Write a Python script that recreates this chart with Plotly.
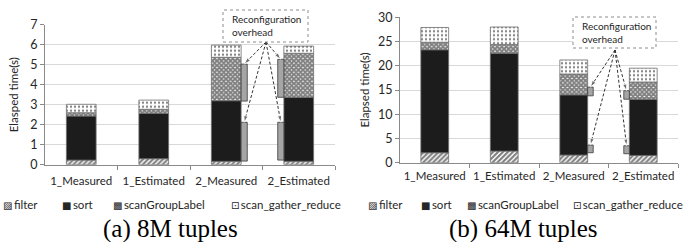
import plotly.graph_objects as go
import numpy as np

W, H = 686, 242

categories = ["1_Measured", "1_Estimated", "2_Measured", "2_Estimated"]
series_names = ["filter", "sort", "scanGroupLabel", "scan_gather_reduce"]
legend_icons = ["▨", "■", "▩", "⊡"]

# (a) 8M tuples
filter_8m = [0.23, 0.30, 0.17, 0.17]
sort_8m = [2.20, 2.27, 3.03, 3.20]
sgl_8m = [0.17, 0.20, 2.17, 2.20]
sgr_8m = [0.42, 0.46, 0.61, 0.36]

# (b) 64M tuples
filter_64m = [2.06, 2.40, 1.58, 1.50]
sort_64m = [21.24, 20.20, 12.42, 11.60]
sgl_64m = [1.55, 1.80, 4.30, 3.55]
sgr_64m = [3.05, 3.60, 2.90, 2.85]

# reconfiguration overhead boxes
overhead_cats = ["2_Measured", "2_Measured", "2_Estimated", "2_Estimated"]
overhead_base_8m = [3.18, 0.18, 3.37, 0.23]
overhead_len_8m = [1.85, 1.94, 1.90, 1.89]
overhead_base_64m = [13.80, 2.06, 13.10, 1.85]
overhead_len_64m = [1.80, 1.59, 1.75, 1.65]

titles_y = ["Elasped time(s)", "Elapsed time(s)"]
captions = ["(a) 8M tuples", "(b) 64M tuples"]
note_text = "Reconfiguration<br>overhead"

FONT = "Lato"
TXT = "#262626"

patterns = [
    dict(shape="/", size=3.5, solidity=0.6, fgcolor="black", bgcolor="white"),
    None,
    dict(shape="x", size=3.2, solidity=0.85, fgcolor="black", bgcolor="white"),
    dict(shape=".", size=4, solidity=0.25, fgcolor="black", bgcolor="white"),
]
colors = ["white", "#1c1c1c", "white", "white"]

# layout geometry (pixels)
panels = [
    dict(x0=45, x1=335, ytop=24.7, ybot=164.7, ymax=7, dtick=1, barw=0.41,
         ovw=0.085, ovoff=[0.205, 0.205, -0.29, -0.29],
         box=(223, 10, 308, 42), tail=(266, 42), capx=170,
         leg=[2, 61, 112, 230], ticklen=5, standoff=9),
    dict(x0=400, x1=678, ytop=17.3, ybot=162.7, ymax=30, dtick=5, barw=0.40,
         ovw=0.08, ovoff=[0.20, 0.20, -0.28, -0.28],
         box=(573, 17, 656, 48), tail=(615, 50), capx=523,
         leg=[367, 420, 466, 572], ticklen=2, standoff=5),
]

data_sets = [
    ([filter_8m, sort_8m, sgl_8m, sgr_8m], overhead_base_8m, overhead_len_8m),
    ([filter_64m, sort_64m, sgl_64m, sgr_64m], overhead_base_64m, overhead_len_64m),
]

fig = go.Figure()
xi = np.arange(len(categories))
shapes, annotations = [], []

for p, (P, (vals, ob, ol)) in enumerate(zip(panels, data_sets)):
    xa = "x" if p == 0 else "x2"
    ya = "y" if p == 0 else "y2"
    base = np.zeros(len(categories))
    for s, name in enumerate(series_names):
        v = np.array(vals[s], dtype=float)
        marker = dict(color=colors[s], line=dict(color="#6e6e6e", width=0.8))
        if patterns[s] is not None:
            marker["pattern"] = patterns[s]
        fig.add_trace(go.Bar(
            x=xi, y=v, base=base.copy(), width=P["barw"], name=name,
            marker=marker, xaxis=xa, yaxis=ya, showlegend=False))
        base = base + v
        # legend entry (icon + label)
        annotations.append(dict(
            xref="paper", yref="paper", x=P["leg"][s] / W, y=1 - 204 / H,
            xanchor="left", yanchor="middle", showarrow=False, borderpad=0,
            text=(f"<span style='font-family:DejaVu Sans;font-size:10px'>"
                  f"{legend_icons[s]}</span>\u2009{name}"),
            font=dict(family=FONT, size=11.5, color=TXT)))

    # overhead boxes
    ox = np.array([categories.index(c) for c in overhead_cats], dtype=float)
    fig.add_trace(go.Bar(
        x=ox, y=ol, base=ob, width=P["ovw"], offset=P["ovoff"],
        marker=dict(color="#a5a5a5", line=dict(color="#3a3a3a", width=0.8)),
        xaxis=xa, yaxis=ya, showlegend=False))

    def px_to_dx(px, P=P):
        return (px - P["x0"]) / (P["x1"] - P["x0"]) * 4 - 0.5

    def py_to_dy(py, P=P):
        return (P["ybot"] - py) / (P["ybot"] - P["ytop"]) * P["ymax"]

    tx, ty = px_to_dx(P["tail"][0]), py_to_dy(P["tail"][1])
    for k in range(len(overhead_cats)):
        hx = ox[k] + P["ovoff"][k] + P["ovw"] / 2
        hy = ob[k] + ol[k]
        fig.add_trace(go.Scatter(
            x=[tx, hx], y=[ty, hy],
            mode="lines+markers", xaxis=xa, yaxis=ya, showlegend=False,
            line=dict(color="#333333", width=1, dash="3px,2px"),
            marker=dict(symbol=["circle", "arrow"], size=[0, 7], color="#333333",
                        angleref="previous"),
            cliponaxis=False, hoverinfo="skip"))

    bx0, by0, bx1, by1 = P["box"]
    shapes.append(dict(type="rect", xref="paper", yref="paper",
                       x0=bx0 / W, x1=bx1 / W, y0=1 - by1 / H, y1=1 - by0 / H,
                       line=dict(color="#8c8c8c", width=1, dash="dot"),
                       fillcolor="white", layer="above"))
    annotations.append(dict(xref="paper", yref="paper", x=(bx0 + 7) / W,
                            y=1 - (by0 + by1) / 2 / H, xanchor="left", yanchor="middle",
                            text=note_text, showarrow=False, align="left",
                            font=dict(family=FONT, size=10, color=TXT)))
    annotations.append(dict(xref="paper", yref="paper", x=P["capx"] / W,
                            y=1 - 229 / H, xanchor="center", yanchor="middle",
                            text=captions[p], showarrow=False, borderpad=0,
                            font=dict(family="Liberation Serif", size=25, color="black")))

layout = dict(
    width=W, height=H, margin=dict(l=0, r=0, t=0, b=0),
    paper_bgcolor="white", plot_bgcolor="white", barmode="overlay",
    shapes=shapes, annotations=annotations, showlegend=False,
)
for p, P in enumerate(panels):
    sx = "" if p == 0 else "2"
    layout[f"xaxis{sx}"] = dict(
        domain=[P["x0"] / W, P["x1"] / W], range=[-0.5, 3.5],
        tickvals=list(range(4)), ticktext=categories,
        ticks="outside", ticklen=P["ticklen"], tickcolor="rgba(0,0,0,0)",
        minor=dict(tickvals=[0.5, 1.5, 2.5, 3.5], ticks="outside", ticklen=4,
                   tickcolor="#8a8a8a"),
        showgrid=False, zeroline=False, anchor="y" + sx, automargin=False,
        showline=True, linecolor="#8a8a8a", linewidth=1,
        tickfont=dict(family=FONT, size=11.5, color=TXT))
    layout[f"yaxis{sx}"] = dict(
        domain=[1 - P["ybot"] / H, 1 - P["ytop"] / H], range=[0, P["ymax"]],
        dtick=P["dtick"], ticks="outside", ticklen=4, tickcolor="#8a8a8a",
        showgrid=True, gridcolor="#d9d9d9", gridwidth=1, zeroline=False,
        showline=True, linecolor="#8a8a8a", linewidth=1, automargin=False,
        tickfont=dict(family=FONT, size=12.5, color=TXT),
        title=dict(text=titles_y[p], font=dict(family=FONT, size=11.5, color=TXT),
                   standoff=P["standoff"]),
        anchor="x" + sx)

fig.update_layout(**layout)
fig.write_html("out.html", config={"displayModeBar": False},
               post_script="document.body.style.margin='0';document.body.style.overflow='hidden';")
